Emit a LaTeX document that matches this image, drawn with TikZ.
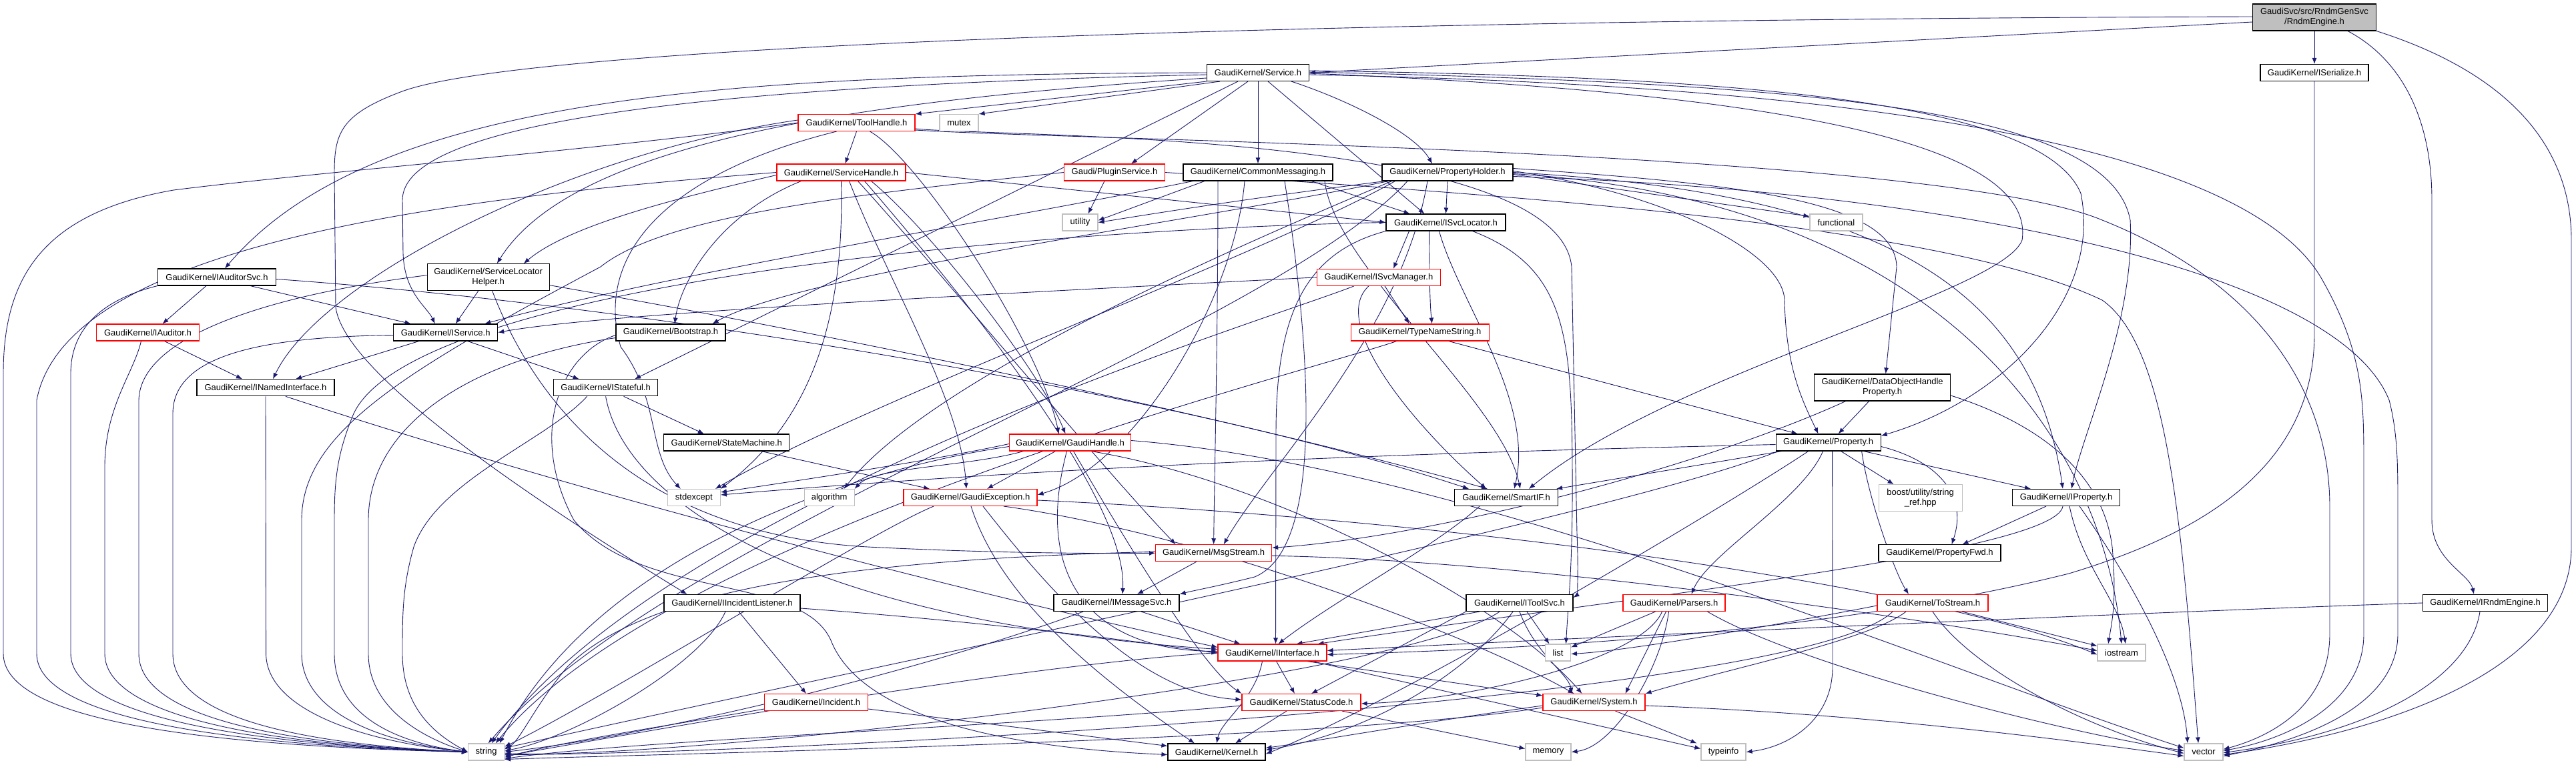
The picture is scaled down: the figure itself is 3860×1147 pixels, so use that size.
\documentclass[tikz,border=0pt]{standalone}
\usepackage{fontspec}
\setsansfont{Liberation Sans}
\usetikzlibrary{arrows.meta}
\definecolor{edgec}{HTML}{191970}
\definecolor{gry}{HTML}{BFBFBF}
\pgfdeclarelayer{bg}
\pgfsetlayers{bg,main}
\begin{document}
\begin{tikzpicture}[x=1pt,y=-1pt,
  nb/.style={draw=black,line width=1.1pt,fill=white,inner sep=0pt,minimum height=25pt,align=center,font=\sffamily\fontsize{13}{15}\selectfont},
  nr/.style={nb,draw=red},
  ng/.style={nb,draw=gry},
  edg/.style={draw=edgec,line width=0.9pt,-{Latex[length=9pt,width=7pt]}}]
\useasboundingbox (0,0) rectangle (3860,1147);
% nodes
\node[nb,fill=gry,minimum width=185pt,minimum height=40pt] (RE) at (3468,26) {GaudiSvc/src/RndmGenSvc\\/RndmEngine.h};
\node[nb,minimum width=153pt] (SV) at (1885,109) {GaudiKernel/Service.h};
\node[nb,minimum width=162pt] (SER) at (3468,109) {GaudiKernel/ISerialize.h};
\node[nr,minimum width=175pt] (TH) at (1283.5,184) {GaudiKernel/ToolHandle.h};
\node[ng,minimum width=58pt] (MU) at (1437,184) {mutex};
\node[nr,minimum width=193pt] (SH) at (1260.5,258.5) {GaudiKernel/ServiceHandle.h};
\node[nr,minimum width=151pt] (PS) at (1670,258.5) {Gaudi/PluginService.h};
\node[nb,minimum width=224pt] (CM) at (1885,258.5) {GaudiKernel/CommonMessaging.h};
\node[nb,minimum width=196pt] (PH) at (2169,258.5) {GaudiKernel/PropertyHolder.h};
\node[ng,minimum width=53pt] (UT) at (1618.5,333.5) {utility};
\node[nb,minimum width=179pt] (SL) at (2166.5,333.5) {GaudiKernel/ISvcLocator.h};
\node[ng,minimum width=79pt] (FN) at (2751.5,333.5) {functional};
\node[nb,minimum width=177pt] (AS) at (325,415.5) {GaudiKernel/IAuditorSvc.h};
\node[nb,minimum width=183pt,minimum height=40pt] (SLH) at (731.7,415.7) {GaudiKernel/ServiceLocator\\Helper.h};
\node[nr,minimum width=185pt] (SM) at (2066,415.8) {GaudiKernel/ISvcManager.h};
\node[nr,minimum width=154pt] (AU) at (221.5,498.5) {GaudiKernel/IAuditor.h};
\node[nb,minimum width=156pt] (IS) at (667.7,498.5) {GaudiKernel/IService.h};
\node[nb,minimum width=164pt] (BS) at (1005,498.5) {GaudiKernel/Bootstrap.h};
\node[nr,minimum width=207pt] (TN) at (2127.7,498.5) {GaudiKernel/TypeNameString.h};
\node[nb,minimum width=206pt] (NI) at (398,581.3) {GaudiKernel/INamedInterface.h};
\node[nb,minimum width=156pt] (ST) at (907.6,581.3) {GaudiKernel/IStateful.h};
\node[nb,minimum width=204pt,minimum height=40pt] (DO) at (2820.6,581) {GaudiKernel/DataObjectHandle\\Property.h};
\node[nb,minimum width=188pt] (SMA) at (1088.8,663.5) {GaudiKernel/StateMachine.h};
\node[nr,minimum width=182pt] (GH) at (1603.5,663.5) {GaudiKernel/GaudiHandle.h};
\node[nb,minimum width=157pt] (PR) at (2739.6,663.5) {GaudiKernel/Property.h};
\node[ng,minimum width=79pt] (SE) at (1039.8,746) {stdexcept};
\node[ng,minimum width=75pt] (AL) at (1242.6,746) {algorithm};
\node[nr,minimum width=200pt] (GE) at (1454,746) {GaudiKernel/GaudiException.h};
\node[nb,minimum width=155pt] (SI) at (2257,746) {GaudiKernel/SmartIF.h};
\node[ng,minimum width=125pt,minimum height=40pt] (BO) at (2877.6,746.7) {boost/utility/string\\\_ref.hpp};
\node[nb,minimum width=161pt] (IP) at (3096,746) {GaudiKernel/IProperty.h};
\node[nr,minimum width=174pt] (MS) at (1818.6,829.3) {GaudiKernel/MsgStream.h};
\node[nb,minimum width=183pt] (PF) at (2906.5,829.3) {GaudiKernel/PropertyFwd.h};
\node[nb,minimum width=204pt] (IL) at (1097,904) {GaudiKernel/IIncidentListener.h};
\node[nb,minimum width=188pt] (MSV) at (1673,904) {GaudiKernel/IMessageSvc.h};
\node[nb,minimum width=160pt] (TS) at (2277,904) {GaudiKernel/IToolSvc.h};
\node[nr,minimum width=153pt] (PA) at (2508.5,904) {GaudiKernel/Parsers.h};
\node[nr,minimum width=166pt] (TO) at (2896,904) {GaudiKernel/ToStream.h};
\node[nb,minimum width=187pt] (IRE) at (3724,904) {GaudiKernel/IRndmEngine.h};
\node[nr,minimum width=163pt] (II) at (1906.5,978.5) {GaudiKernel/IInterface.h};
\node[ng,minimum width=38pt] (LI) at (2334.5,978.5) {list};
\node[ng,minimum width=72pt] (IO) at (3179,978.5) {iostream};
\node[nr,minimum width=155pt] (IN) at (1223,1053) {GaudiKernel/Incident.h};
\node[nr,minimum width=178pt] (SC) at (1950,1053) {GaudiKernel/StatusCode.h};
\node[nr,minimum width=153pt] (SY) at (2388.5,1053) {GaudiKernel/System.h};
\node[ng,minimum width=54pt] (STR) at (728.6,1127.5) {string};
\node[nb,minimum width=146pt] (KE) at (1823,1127.5) {GaudiKernel/Kernel.h};
\node[ng,minimum width=68pt] (ME) at (2320,1127.5) {memory};
\node[ng,minimum width=67pt] (TY) at (2582.5,1127.5) {typeinfo};
\node[ng,minimum width=58pt] (VE) at (3302,1127.5) {vector};
\begin{pgfonlayer}{bg}
% RndmEngine
\draw[edg] ([yshift=-7pt]RE.west) -- (SV.east);
\draw[edg] ([yshift=1pt]RE.west) .. controls (2200,28) and (800,60) .. (600,138) .. controls (510,172) and (501,200) .. (501,260) -- (503,460) .. controls (512,540) and (700,690) .. ([xshift=35pt]IL.north west);
\draw[edg] (RE.south) -- (SER.north);
\draw[edg] ([xshift=50pt]RE.south) .. controls (3600,90) and (3644,180) .. (3644,300) -- (3644,780) .. controls (3644,840) and (3700,860) .. ([xshift=-17pt]IRE.north);
\draw[edg] (RE.south east) .. controls (3760,110) and (3853,220) .. (3853,360) -- (3853,820) .. controls (3853,1010) and (3560,1100) .. ([yshift=-4pt]VE.east);
% ISerialize, IRndmEngine
\draw[edg] (SER.south) -- (3468,500) .. controls (3468,700) and (3300,800) .. (3100,860) .. controls (2700,960) and (2200,975) .. ([yshift=-3pt]II.east);
\draw[edg] (IRE.west) .. controls (3300,915) and (2600,945) .. ([yshift=3pt]II.east);
\draw[edg] ([xshift=-8pt]IRE.south) .. controls (3700,1020) and (3550,1100) .. ([yshift=-1pt]VE.east);
% Service
\draw[edg] (SV.west) .. controls (1100,112) and (560,140) .. ([xshift=12pt]AS.north);
\draw[edg] ([yshift=-3pt]SV.west) .. controls (1000,130) and (603,190) .. (603,300) -- (604,380) .. controls (606,440) and (640,460) .. ([xshift=-16pt]IS.north);
\draw[edg] ([yshift=-8pt]SV.west) .. controls (1300,150) and (860,210) .. ([xshift=13pt]SLH.north);
\draw[edg] (SV.south west) -- (TH.north east);
\draw[edg] ([xshift=20pt]SV.south west) -- (MU.north east);
\draw[edg] ([xshift=-30pt]SV.south) -- ([xshift=-35pt]ST.north east);
\draw[edg] ([xshift=-15pt]SV.south) -- ([xshift=25pt]PS.north);
\draw[edg] (SV.south) -- (CM.north);
\draw[edg] ([xshift=15pt]SV.south) -- ([xshift=-32pt]SL.north);
\draw[edg] ([xshift=50pt]SV.south) .. controls (2020,150) and (2120,200) .. ([xshift=-23pt]PH.north);
\draw[edg] ([yshift=3pt]SV.east) .. controls (2600,115) and (3060,150) .. (3118,290) .. controls (3150,450) and (3000,600) .. ([yshift=-3pt]PR.north east);
\draw[edg] ([yshift=1pt]SV.east) .. controls (2700,125) and (3160,160) .. (3192,330) .. controls (3200,480) and (3120,650) .. ([xshift=8pt]IP.north);
\draw[edg] ([yshift=-1pt]SV.east) .. controls (2700,140) and (3050,220) .. (3030,360) .. controls (3000,440) and (2500,560) .. ([xshift=34pt]SI.north);
\draw[edg] ([yshift=-3pt]SV.east) .. controls (2900,130) and (3380,240) .. (3480,420) .. controls (3542,530) and (3542,600) .. (3542,700) -- (3542,950) .. controls (3542,1060) and (3420,1110) .. ([yshift=2pt]VE.east);
% ToolHandle
\draw[edg] (TH.south) -- ([xshift=6pt]SH.north);
\draw[edg] ([xshift=20pt]TH.south) .. controls (1380,240) and (1560,520) .. ([xshift=-17pt]GH.north);
\draw[edg] ([yshift=4pt]TH.west) .. controls (850,230) and (480,420) .. ([xshift=11pt]NI.north);
\draw[edg] (TH.west) .. controls (900,225) and (500,255) .. (260,285) .. controls (60,320) and (5,420) .. (5,560) -- (5,980) .. controls (5,1080) and (300,1118) .. (STR.west);
\draw[edg] ([xshift=-30pt]TH.south) .. controls (1000,260) and (890,380) .. (930,520) .. controls (990,600) and (970,680) .. ([xshift=-20pt]SE.north);
\draw[edg] ([yshift=-9pt]TH.east) .. controls (1500,206) and (2335,195) .. (2355,400) -- (2363,800) .. controls (2366,870) and (2362,893) .. ([yshift=8pt]TS.east);
\draw[edg] ([yshift=-11pt]TH.east) .. controls (1600,210) and (2900,225) .. (3150,330) .. controls (3400,430) and (3491,600) .. (3491,760) -- (3491,950) .. controls (3491,1060) and (3400,1105) .. ([yshift=4pt]VE.east);
% ServiceHandle
\draw[edg] ([yshift=-4pt]SH.west) .. controls (1000,300) and (850,340) .. ([xshift=53pt]SLH.north);
\draw[edg] (SH.west) .. controls (700,295) and (100,360) .. (55,600) -- (55,980) .. controls (55,1075) and (330,1117) .. (STR.west);
\draw[edg] ([xshift=-60pt]SH.south) .. controls (1080,320) and (1020,420) .. ([xshift=6pt]BS.north);
\draw[edg] ([xshift=45pt]SH.south) .. controls (1400,350) and (1560,560) .. ([xshift=-7pt]GH.north);
\draw[edg] ([xshift=12pt]SH.south) .. controls (1330,420) and (1440,600) .. ([xshift=-6pt]GE.north);
\draw[edg] (SH.east) -- (SL.west);
\draw[edg] ([xshift=25pt]SH.south) .. controls (1420,420) and (1650,700) .. ([xshift=-57pt]MS.north);
\draw[edg] ([xshift=35pt]SH.south) .. controls (1450,450) and (1690,750) .. ([xshift=9pt]MSV.north);
\draw[edg] (SH.south) .. controls (1265,450) and (1230,620) .. (SE.north east);
% PluginService
\draw[edg] ([xshift=-15pt]PS.south) -- ([xshift=12pt]UT.north);
\draw[edg] (PS.west) .. controls (1300,290) and (1000,320) .. (900,400) .. controls (600,560) and (452,650) .. (452,780) -- (452,980) .. controls (452,1060) and (550,1110) .. (STR.west);
\draw[edg] (PS.east) .. controls (2200,290) and (2900,330) .. (3150,450) .. controls (3250,520) and (3270,800) .. ([xshift=-8pt]VE.north);
% CommonMessaging
\draw[edg] ([xshift=-80pt]CM.south) -- ([yshift=3pt]UT.east);
\draw[edg] ([xshift=80pt]CM.south) -- ([xshift=-54pt]SL.north);
\draw[edg] ([xshift=15pt]CM.south west) .. controls (1500,330) and (1000,410) .. ([xshift=-20pt]IS.north east);
\draw[edg] ([xshift=-20pt]CM.south) .. controls (1850,450) and (1700,700) .. ([yshift=4pt]GE.east);
\draw[edg] ([xshift=40pt]CM.south) .. controls (1960,500) and (1990,820) .. (1880,865) .. controls (1820,880) and (1790,885) .. (MSV.north east);
\draw[edg] ([xshift=-60pt]CM.south) .. controls (1825,500) and (1820,700) .. (MS.north);
\draw[edg] ([xshift=100pt]CM.south) .. controls (2000,400) and (2250,600) .. ([xshift=21pt]SI.north);
% PropertyHolder
\draw[edg] ([xshift=5pt]PH.south west) .. controls (1850,300) and (1700,325) .. (UT.east);
\draw[edg] (PH.south) -- (SL.north);
\draw[edg] ([yshift=-3pt]PH.east) -- ([yshift=-4pt]FN.north west);
\draw[edg] ([xshift=10pt]PH.south west) .. controls (1800,330) and (1200,410) .. ([xshift=-20pt]BS.north east);
\draw[edg] ([yshift=6pt]PH.east) .. controls (2600,275) and (2840,300) .. (2842,400) -- ([xshift=5pt]DO.north);
\draw[edg] ([yshift=2pt]PH.east) .. controls (2500,290) and (2672,380) .. (2674,450) .. controls (2676,550) and (2700,600) .. ([xshift=-15pt]PR.north);
\draw[edg] (PH.east) .. controls (2850,290) and (3050,450) .. ([xshift=-5pt]IP.north);
\draw[edg] ([xshift=-30pt]PH.south) .. controls (2100,500) and (1900,700) .. ([xshift=15pt]MS.north);
\draw[edg] ([xshift=15pt]PH.south west) .. controls (1900,350) and (1400,560) .. ([xshift=-16pt]AL.north east);
\draw[edg] ([xshift=20pt]PH.south west) .. controls (1900,380) and (1300,600) .. ([xshift=-8pt]SE.north east);
\draw[edg] ([yshift=-2pt]PH.east) .. controls (2900,300) and (3150,650) .. (IO.north);
\draw[edg] ([xshift=-60pt]PH.south) .. controls (1900,500) and (1000,800) .. ([xshift=3pt]STR.north);
\draw[edg] ([yshift=-6pt]PH.east) .. controls (2900,285) and (3500,400) .. (3580,600) .. controls (3593,650) and (3593,700) .. (3593,760) -- (3593,950) .. controls (3593,1060) and (3450,1110) .. ([yshift=-6pt]VE.east);
% ISvcLocator
\draw[edg] ([xshift=-55pt]SL.south) -- ([xshift=22pt]SM.north);
\draw[edg] ([xshift=-25pt]SL.south) .. controls (2142,400) and (2142,450) .. ([xshift=18pt]TN.north);
\draw[edg] ([xshift=-10pt]SL.south) .. controls (2185,450) and (2300,600) .. ([xshift=12pt]SI.north);
\draw[edg] (SL.south west) .. controls (1950,380) and (1912,480) .. (1912,650) -- ([xshift=5pt]II.north);
\draw[edg] ([xshift=40pt]SL.south) .. controls (2345,400) and (2355,500) .. (2356,700) .. controls (2357,850) and (2350,900) .. ([xshift=12pt]LI.north);
\draw[edg] (SL.west) .. controls (1500,345) and (620,430) .. (530,620) .. controls (505,680) and (501,720) .. (501,780) -- (501,980) .. controls (501,1065) and (580,1112) .. (STR.west);
% IAuditorSvc
\draw[edg] ([xshift=-16pt]AS.south) -- ([xshift=22pt]AU.north);
\draw[edg] ([xshift=50pt]AS.south) -- ([xshift=-52pt]IS.north);
\draw[edg] (AS.south west) .. controls (190,440) and (106,470) .. (106,560) -- (106,980) .. controls (106,1072) and (360,1116) .. (STR.west);
\draw[edg] ([yshift=-3pt]AS.east) .. controls (1000,460) and (1800,600) .. ([xshift=-56pt]SI.north);
% ServiceLocatorHelper
\draw[edg] ([xshift=-15pt]SLH.south) -- ([xshift=15pt]IS.north);
\draw[edg] ([yshift=3pt]SLH.west) .. controls (420,440) and (210,500) .. (208,600) -- (208,980) .. controls (208,1070) and (400,1115) .. (STR.west);
\draw[edg] ([yshift=-12pt]SLH.east) .. controls (1300,510) and (1900,640) .. ([xshift=-28pt]SI.north);
\draw[edg] ([xshift=6pt]SLH.south) .. controls (800,600) and (950,800) .. (1300,820) .. controls (1500,830) and (1650,830) .. (MS.west);
% IAuditor, IService, Bootstrap
\draw[edg] ([xshift=25pt]AU.south) -- ([xshift=-35pt]NI.north);
\draw[edg] ([xshift=-10pt]AU.south) .. controls (200,560) and (157,610) .. (157,700) -- (157,980) .. controls (157,1070) and (380,1116) .. (STR.west);
\draw[edg] ([xshift=-40pt]IS.south) -- ([xshift=45pt]NI.north);
\draw[edg] ([xshift=33pt]IS.south) -- ([xshift=-40pt]ST.north);
\draw[edg] ([yshift=-4pt]IS.west) .. controls (400,505) and (259,530) .. (259,620) -- (259,980) .. controls (259,1068) and (420,1114) .. (STR.west);
\draw[edg] ([yshift=-8pt]BS.west) .. controls (700,540) and (552,640) .. (552,780) -- (552,980) .. controls (552,1060) and (630,1105) .. (STR.west);
\draw[edg] ([yshift=-4pt]BS.west) .. controls (840,530) and (790,650) .. (860,780) .. controls (960,900) and (1200,860) .. (1245,960) .. controls (1300,1100) and (1600,1125) .. ([yshift=-4pt]KE.west);
% INamedInterface, IStateful
\draw[edg] (NI.south) -- (398.6,980) .. controls (399,1060) and (530,1110) .. (STR.west);
\draw[edg] ([xshift=30pt]NI.south) .. controls (900,750) and (1500,900) .. ([yshift=8pt]II.west);
\draw[edg] ([xshift=27pt]ST.south) -- ([xshift=-34pt]SMA.north);
\draw[edg] ([xshift=-28pt]ST.south) .. controls (820,660) and (655,720) .. (620,820) .. controls (603,880) and (603,920) .. (603,980) .. controls (603,1060) and (650,1100) .. (STR.west);
\draw[edg] (ST.south) .. controls (935,750) and (1200,930) .. ([yshift=5pt]II.west);
% ISvcManager, TypeNameString, DataObjectHandleProperty, StateMachine
\draw[edg] (SM.west) .. controls (1500,440) and (900,470) .. (IS.east);
\draw[edg] ([xshift=9pt]SM.south) -- ([xshift=-16pt]TN.north);
\draw[edg] ([xshift=-15pt]SM.south) .. controls (1995,480) and (2100,620) .. ([xshift=-30pt]SI.north);
\draw[edg] ([xshift=-37pt]SM.south) .. controls (1900,480) and (1000,750) .. ([xshift=8pt]STR.north);
\draw[edg] ([xshift=43pt]TN.south) -- ([xshift=-46pt]PR.north);
\draw[edg] ([xshift=-35pt]TN.south) .. controls (1950,560) and (1000,800) .. ([xshift=14pt]STR.north);
\draw[edg] ([xshift=-20pt]DO.south) -- ([xshift=15pt]PR.north);
\draw[edg] ([xshift=-55pt]DO.south) .. controls (2550,700) and (2150,805) .. ([yshift=8pt]MS.east);
\draw[edg] ([yshift=-12pt]DO.east) .. controls (3040,630) and (3150,700) .. (3165,820) .. controls (3172,900) and (3165,930) .. ([xshift=-20pt]IO.north);
\draw[edg] ([xshift=52pt]SMA.south) -- ([xshift=-61pt]GE.north);
% GaudiHandle
\draw[edg] ([xshift=-22pt]GH.south) -- ([xshift=25pt]GE.north);
\draw[edg] ([yshift=-2pt]GH.west) .. controls (1400,690) and (1200,720) .. ([yshift=8pt]SE.east);
\draw[edg] ([xshift=-70pt]GH.south) .. controls (1450,700) and (1310,700) .. (AL.north east);
\draw[edg] ([yshift=-6pt]GH.west) .. controls (1300,700) and (900,820) .. ([xshift=20pt]STR.north);
\draw[edg] ([xshift=-5pt]GH.south) .. controls (1545,880) and (1650,975) .. ([yshift=2pt]II.west);
\draw[edg] ([xshift=5pt]GH.south) .. controls (1680,800) and (1800,1000) .. (SC.north west);
\draw[edg] ([xshift=-60pt]GH.south east) .. controls (1900,720) and (2250,900) .. ([xshift=-18pt]SY.north);
\draw[edg] ([yshift=3pt]GH.east) .. controls (2200,700) and (2900,1000) .. ([yshift=6pt]VE.west);
% Property
\draw[edg] ([yshift=-3pt]PR.west) .. controls (2300,675) and (1700,690) .. ([yshift=4pt]SE.east);
\draw[edg] ([xshift=-70pt]PR.south) -- ([xshift=-3pt]SI.north east);
\draw[edg] ([xshift=19pt]PR.south) -- ([xshift=-40pt]BO.north);
\draw[edg] ([xshift=-26pt]PR.south east) -- ([xshift=28pt]IP.north west);
\draw[edg] ([yshift=-6pt]PR.east) .. controls (2900,690) and (2950,740) .. ([xshift=18pt]PF.north);
\draw[edg] ([xshift=-8pt]PR.south) .. controls (2700,750) and (2560,830) .. ([xshift=26pt]PA.north);
\draw[edg] ([xshift=-30pt]PR.south) .. controls (2600,750) and (2100,1050) .. ([yshift=-3pt]KE.east);
\draw[edg] ([xshift=6pt]PR.south) -- (2746,1000) .. controls (2746,1080) and (2680,1120) .. (TY.east);
\draw[edg] ([xshift=50pt]PR.south) .. controls (2800,750) and (2840,860) .. ([xshift=-36pt]TO.north);
\draw[edg] ([xshift=-75pt]PR.south) .. controls (2400,780) and (1300,1000) .. ([yshift=6pt]STR.east);
% SmartIF, GaudiException, MsgStream
\draw[edg] ([xshift=-40pt]SI.south) .. controls (2150,820) and (2000,900) .. ([xshift=9pt]II.north);
\draw[edg] ([xshift=-55pt]GE.south) .. controls (1300,800) and (900,1050) .. ([yshift=8pt]STR.east);
\draw[edg] ([xshift=1pt]GE.south) .. controls (1500,900) and (1650,1020) .. ([xshift=-33pt]KE.north);
\draw[edg] ([xshift=19pt]GE.south) .. controls (1560,870) and (1700,1040) .. ([yshift=4pt]SC.west);
\draw[edg] ([xshift=50pt]GE.south) .. controls (1800,800) and (2200,950) .. ([xshift=-30pt]SY.north);
\draw[edg] ([yshift=-4pt]GE.east) .. controls (2200,780) and (2900,880) .. ([yshift=-3pt]IO.west);
\draw[edg] ([xshift=-26pt]MS.south) -- ([xshift=31pt]MSV.north);
\draw[edg] ([yshift=2pt]MS.west) .. controls (1200,840) and (950,900) .. (850,1000) .. controls (800,1060) and (780,1110) .. ([yshift=4pt]STR.east);
\draw[edg] ([yshift=-4pt]MS.east) .. controls (2300,840) and (2900,930) .. ([yshift=3pt]IO.west);
% IIncidentListener, IMessageSvc
\draw[edg] ([yshift=-8pt]IL.east) .. controls (1450,930) and (1700,960) .. ([yshift=-1pt]II.west);
\draw[edg] ([xshift=10pt]IL.south) -- ([xshift=-15pt]IN.north);
\draw[edg] ([xshift=-10pt]IL.south) .. controls (1050,1000) and (850,1110) .. ([yshift=2pt]STR.east);
\draw[edg] ([xshift=37pt]MSV.south) -- ([xshift=-48pt]II.north);
\draw[edg] ([xshift=-50pt]MSV.south) .. controls (1400,1000) and (1000,1100) .. (STR.east);
% IToolSvc
\draw[edg] ([xshift=-60pt]TS.south) -- ([xshift=36pt]II.north);
\draw[edg] (TS.south west) -- ([xshift=15pt]SC.north);
\draw[edg] (TS.south) .. controls (2300,980) and (2350,1010) .. ([xshift=-33pt]SY.north);
\draw[edg] ([xshift=11pt]TS.south) -- ([xshift=-13pt]LI.north);
\draw[edg] ([xshift=-10pt]TS.south) .. controls (2200,1010) and (2050,1100) .. ([yshift=3pt]KE.east);
\draw[edg] ([xshift=-30pt]TS.south) .. controls (2100,1020) and (1000,1140) .. ([yshift=-2pt]STR.east);
% Parsers, ToStream
\draw[edg] ([xshift=-28pt]PA.south) -- ([yshift=8pt]LI.east);
\draw[edg] ([xshift=-18pt]PA.south) .. controls (2460,990) and (2200,1050) .. ([yshift=-2pt]SC.east);
\draw[edg] ([xshift=-12pt]PA.south) -- ([xshift=47pt]SY.north);
\draw[edg] ([xshift=-8pt]PA.south) .. controls (2490,1000) and (2420,1120) .. (ME.east);
\draw[edg] ([xshift=50pt]PA.south) .. controls (2700,1000) and (3100,1100) .. ([yshift=2pt]VE.west);
\draw[edg] ([yshift=-4pt]TO.west) .. controls (2700,930) and (2450,975) .. ([yshift=-2pt]LI.east);
\draw[edg] ([xshift=-40pt]TO.south) .. controls (2800,960) and (2600,1000) .. (SY.north east);
\draw[edg] ([xshift=44pt]TO.south) -- ([yshift=10pt]IO.west);
\draw[edg] (TO.south) .. controls (2950,1000) and (3120,1090) .. ([yshift=-2pt]VE.west);
\draw[edg] ([xshift=-60pt]TO.south) .. controls (2700,1050) and (1200,1130) .. ([yshift=-4pt]STR.east);
% IInterface
\draw[edg] ([xshift=6pt]II.south) -- ([xshift=-10pt]SC.north);
\draw[edg] ([xshift=52pt]II.south) -- ([yshift=-3pt]SY.north west);
\draw[edg] ([xshift=60pt]II.south) -- ([yshift=5pt]TY.west);
\draw[edg] ([xshift=-15pt]II.south) .. controls (1880,1050) and (1830,1080) .. (KE.north);
\draw[edg] (II.west) .. controls (1500,1000) and (950,1100) .. ([yshift=-6pt]STR.east);
% Incident, StatusCode, System
\draw[edg] ([yshift=-10pt]IN.east) -- ([yshift=9pt]KE.west);
\draw[edg] ([yshift=-10pt]IN.west) .. controls (1050,1080) and (850,1110) .. ([yshift=-8pt]STR.east);
\draw[edg] ([xshift=-22pt]SC.south) -- ([xshift=28pt]KE.north);
\draw[edg] ([xshift=61pt]SC.south) -- ([yshift=5pt]ME.west);
\draw[edg] ([yshift=-5pt]SC.west) .. controls (1500,1090) and (950,1110) .. ([yshift=-10pt]STR.east);
\draw[edg] ([yshift=-5pt]SY.west) .. controls (2150,1080) and (1980,1110) .. ([yshift=6pt]KE.east);
\draw[edg] ([xshift=32pt]SY.south) -- ([xshift=-40pt]TY.north);
\draw[edg] ([yshift=-8pt]SY.west) .. controls (2000,1110) and (1000,1130) .. ([yshift=-11pt]STR.east);
\draw[edg] ([yshift=-5pt]SY.east) .. controls (2800,1070) and (3100,1110) .. ([yshift=-6pt]VE.west);
% IProperty
\draw[edg] ([xshift=-30pt]IP.south) -- ([xshift=34pt]PF.north);
\draw[edg] ([xshift=-5pt]IP.south) .. controls (3080,830) and (2400,900) .. ([xshift=-14pt]II.north east);
\draw[edg] ([xshift=5pt]IP.south) .. controls (3120,850) and (3175,900) .. ([xshift=6pt]IO.north);
\draw[edg] ([xshift=20pt]IP.south) .. controls (3180,850) and (3270,1000) .. ([xshift=-24pt]VE.north);
\end{pgfonlayer}
\end{tikzpicture}
\end{document}
